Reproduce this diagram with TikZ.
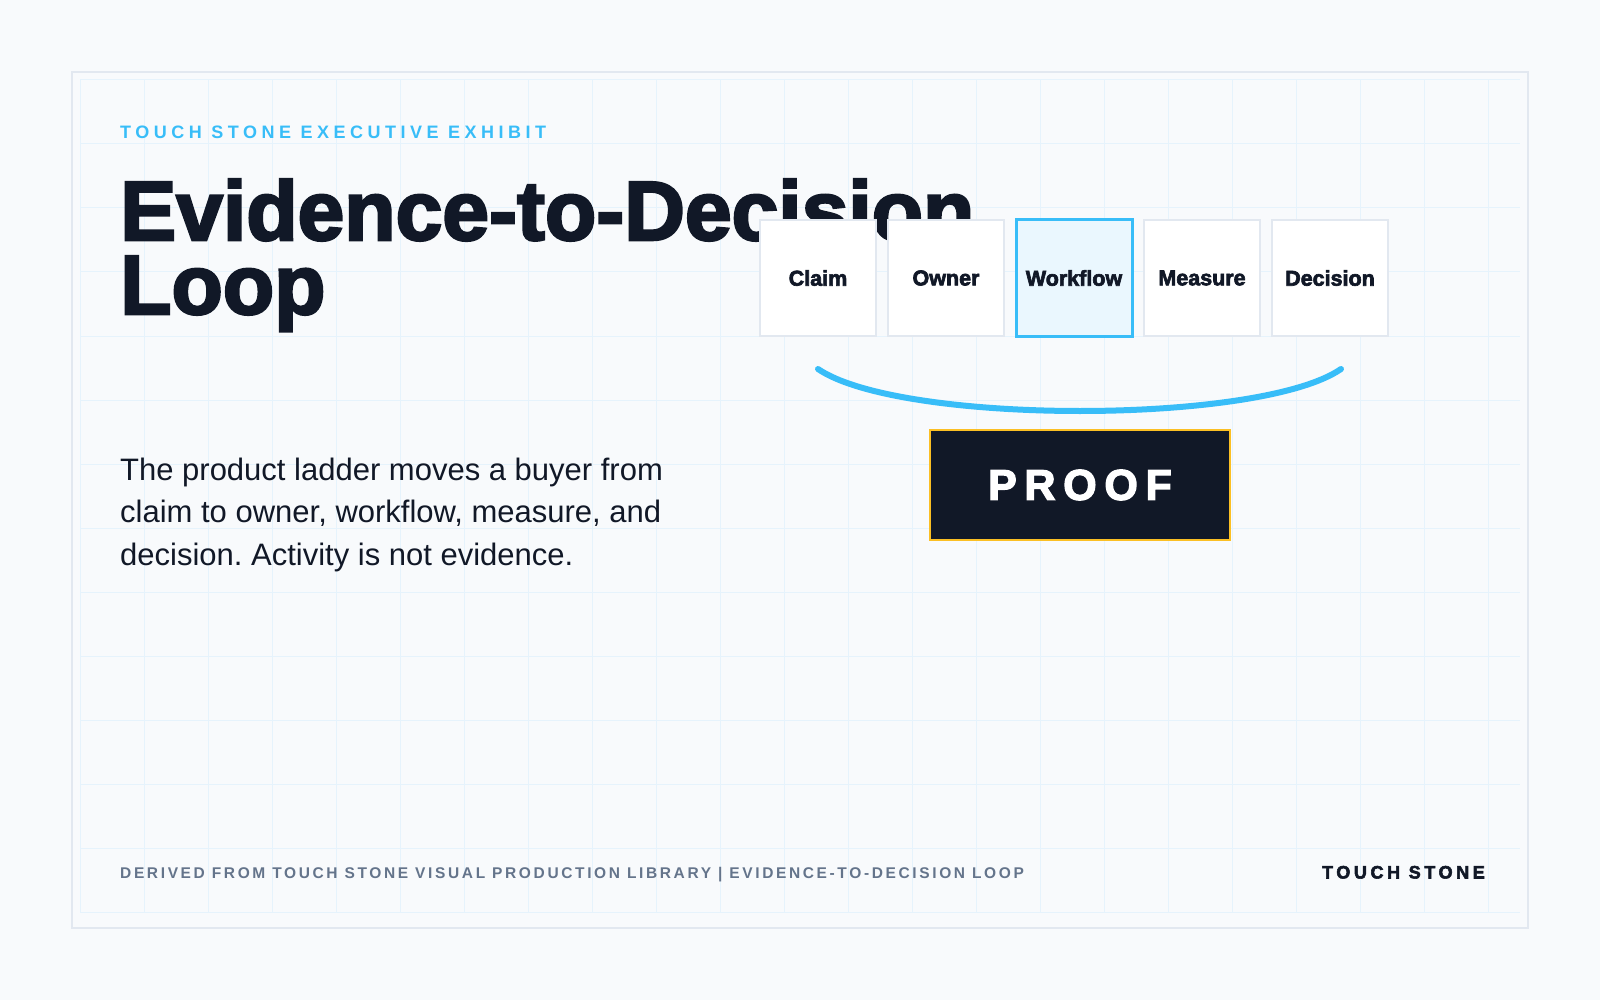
\documentclass[tikz,border=0pt]{standalone}
\usepackage{fontspec}
\usetikzlibrary{positioning}
\setmainfont{Liberation Sans}
\newfontfamily\heavyfont{Liberation Sans}[BoldFeatures={FakeBold=3}]
\definecolor{paper}{HTML}{F8FAFC}
\definecolor{gridblue}{HTML}{E6F3FC}
\definecolor{framegray}{HTML}{E2E8F0}
\definecolor{ink}{HTML}{111827}
\definecolor{sky}{HTML}{38BDF8}
\definecolor{skypale}{HTML}{EAF7FE}
\definecolor{slate}{HTML}{64748B}
\definecolor{amber}{HTML}{FBBF24}

\begin{document}
\begin{tikzpicture}[x=1pt,y=-1pt,
  gridline/.style={draw=gridblue,line width=1pt},
  plain/.style={inner sep=0pt,text=ink},
  kickertext/.style={plain,text=sky,font=\fontsize{18}{18}\selectfont\bfseries\addfontfeatures{LetterSpace=25}},
  titletext/.style={plain,text depth=0pt,font=\fontsize{84}{84}\selectfont\heavyfont\bfseries},
  bodytext/.style={plain,align=left,font=\fontsize{31}{42.5}\selectfont\frenchspacing},
  stage/.style={draw=framegray,fill=white,line width=1.5pt,minimum width=116pt,minimum height=116pt,
    inner sep=0pt,outer sep=0pt,text=ink,font=\fontsize{21.5}{21.5}\selectfont\heavyfont\bfseries},
  stagehot/.style={stage,draw=sky,fill=skypale,line width=3pt},
  arcline/.style={draw=sky,line width=6pt,line cap=round},
  proof/.style={draw=amber,fill=ink,line width=2pt,minimum width=300pt,minimum height=110pt,text=white,
    font=\fontsize{43}{43}\selectfont\heavyfont\bfseries\addfontfeatures{LetterSpace=18}},
  foottext/.style={plain,text=slate,font=\fontsize{15.5}{15.5}\selectfont\bfseries\addfontfeatures{LetterSpace=17}},
  brandtext/.style={plain,font=\fontsize{18}{18}\selectfont\heavyfont\bfseries\addfontfeatures{LetterSpace=20}}]
  \path[use as bounding box,fill=paper] (0,0) rectangle (1600,1000);
  \draw[framegray,line width=2pt] (72,72) rectangle (1528,928);
  \foreach \x in {80,144,...,1488} \draw[gridline] (\x,80) -- (\x,912);
  \foreach \y in {80,144,...,912} \draw[gridline] (80,\y) -- (1520,\y);

  \node[kickertext,anchor=base west] (kicker) at (120,138.5) {TOUCH STONE EXECUTIVE EXHIBIT};
  \node[titletext,anchor=base west] (title1) at (120,240) {Evidence-to-Decision};
  \node[titletext,anchor=base west] (title2) at (120,314) {Loop};
  \node[bodytext,anchor=north west] (body) at (120,457.5)
    {The product ladder moves a buyer from\\claim to owner, workflow, measure, and\\decision. Activity is not evidence.};

  \node[stage] (claim) at (818,278) {Claim};
  \node[stage,right=12pt of claim] (owner) {Owner};
  \node[stagehot,right=12pt of owner] (workflow) {Workflow};
  \node[stage,right=12pt of workflow] (measure) {Measure};
  \node[stage,right=12pt of measure] (decision) {Decision};

  \coordinate (arcL) at (818,369);
  \coordinate (arcR) at (1341,369);
  \draw[arcline] (arcL) .. controls (900,425) and (1260,425) .. (arcR);
  \node[proof] (proofbox) at (1080,485) {PROOF};

  \node[foottext,anchor=base west] (source) at (120,878)
    {DERIVED FROM TOUCH STONE VISUAL PRODUCTION LIBRARY | EVIDENCE-TO-DECISION LOOP};
  \node[brandtext,anchor=base east] (brand) at (1485,878.5) {TOUCH STONE};
\end{tikzpicture}
\end{document}
